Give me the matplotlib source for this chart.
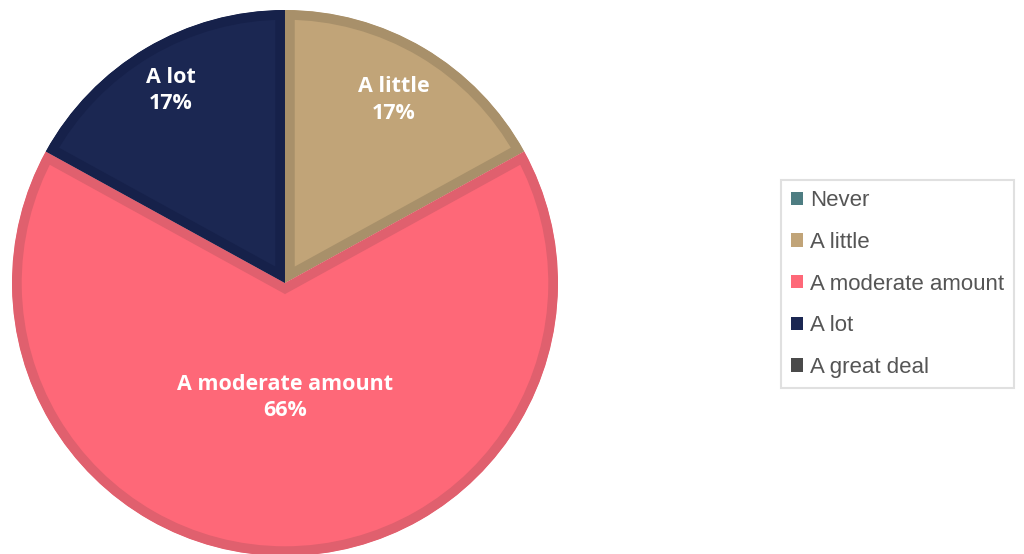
import matplotlib.pyplot as plt
import numpy as np
from matplotlib.patches import Patch

categories = ["Never", "A little", "A moderate amount", "A lot", "A great deal"]
shares = [0, 17, 66, 17, 0]
fill_colors = ["#4E7D82", "#C1A478", "#FE6878", "#1B2752", "#4A4A4A"]
edge_colors = ["#41686C", "#A8906A", "#E0606E", "#16214A", "#3C3C3C"]
# how far out (fraction of radius) each slice label sits
label_dist = [0.0, 0.78, 0.42, 0.82, 0.0]

fig = plt.figure(figsize=(10.24, 5.54), dpi=100)
ax = fig.add_axes([12 / 1024, -2 / 554, 546 / 1024, 546 / 554])

shown = [i for i, v in enumerate(shares) if v > 0]
wedges, _ = ax.pie([shares[i] for i in shown], colors=[fill_colors[i] for i in shown],
                   startangle=90, counterclock=False, radius=1.0,
                   wedgeprops=dict(linewidth=14, joinstyle="miter"))
ax.set_xlim(-1, 1)
ax.set_ylim(-1, 1)
ax.set_aspect("equal")
ax.axis("off")

for w, i in zip(wedges, shown):
    w.set_edgecolor(edge_colors[i])
    # keep the border stroke inside each slice
    w.set_clip_on(True)
    w.set_clip_path(w.get_path(), ax.transData)

for w, i in zip(wedges, shown):
    mid = np.deg2rad((w.theta1 + w.theta2) / 2)
    r = label_dist[i]
    ax.text(r * np.cos(mid), r * np.sin(mid), f"{categories[i]}\n{shares[i]}%",
            ha="center", va="center", color="white", fontsize=15.5, fontweight="bold",
            family="Open Sans", linespacing=1.35)

handles = [Patch(facecolor=c, edgecolor="none") for c in fill_colors]
leg = fig.legend(handles, categories, loc="center left", bbox_to_anchor=(781 / 1024, 1 - 284 / 554),
                 borderaxespad=0, frameon=True, fancybox=False, handlelength=0.54, handleheight=0.54,
                 handletextpad=0.28, labelspacing=0.93, borderpad=0.47,
                 prop=dict(family="Liberation Sans", size=16), labelcolor="#555555")
leg.get_frame().set_edgecolor("#D9D9D9")
leg.get_frame().set_linewidth(1.5)

fig.savefig("out.png", dpi=100)
